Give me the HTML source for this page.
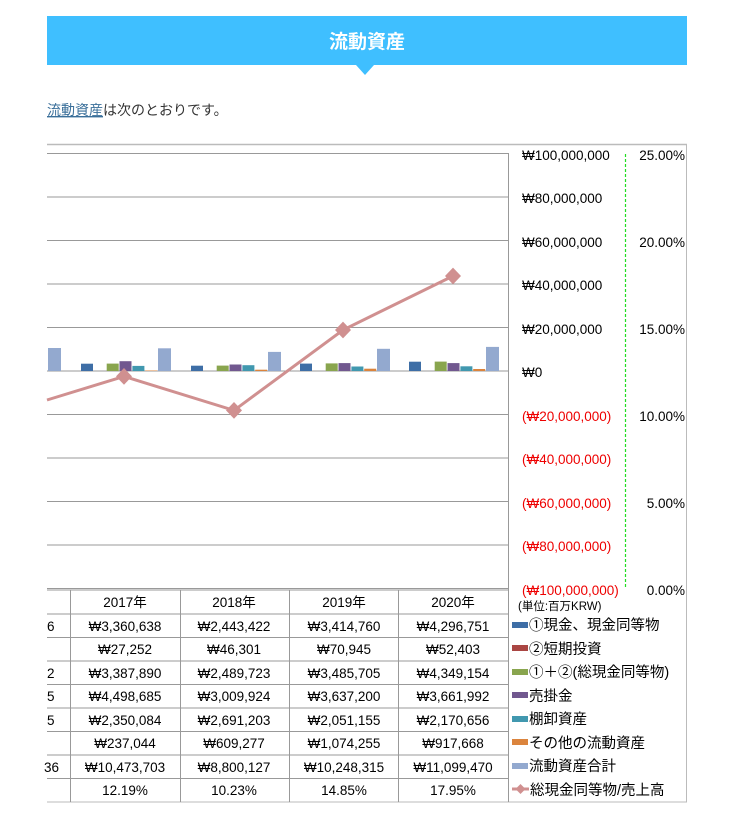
<!DOCTYPE html>
<html><head><meta charset="utf-8"><style>
body{margin:0;background:#fff;width:741px;height:815px;overflow:hidden;font-family:"Liberation Sans","Noto Sans CJK JP",sans-serif;}
</style></head><body>
<svg width="741" height="815" xmlns="http://www.w3.org/2000/svg" style="position:absolute;left:0;top:0;font-family:'Liberation Sans','Noto Sans CJK JP',sans-serif">
<rect x="47" y="16" width="640" height="49" fill="#3fbfff"/>
<polygon points="356,65 374,65 365,75" fill="#3fbfff"/>
<text x="367" y="48" font-size="19" font-weight="bold" fill="#fff" text-anchor="middle">流動資産</text>
<text x="47" y="115" font-size="14" fill="#333"><tspan fill="#3a6f9a" text-decoration="underline">流動資産</tspan>は次のとおりです。</text>
<line x1="47" y1="144.5" x2="687" y2="144.5" stroke="#bbb" stroke-width="1.5"/>
<line x1="686.5" y1="144" x2="686.5" y2="802" stroke="#bbb"/>
<line x1="47" y1="802" x2="687" y2="802" stroke="#bbb"/>
<g stroke="#999" stroke-width="1">
<line x1="47" y1="153.5" x2="508" y2="153.5"/><line x1="47" y1="197" x2="508" y2="197"/><line x1="47" y1="240.5" x2="508" y2="240.5"/><line x1="47" y1="284" x2="508" y2="284"/><line x1="47" y1="327.5" x2="508" y2="327.5"/><line x1="47" y1="371" x2="508" y2="371"/><line x1="47" y1="414.5" x2="508" y2="414.5"/><line x1="47" y1="458" x2="508" y2="458"/><line x1="47" y1="501.5" x2="508" y2="501.5"/><line x1="47" y1="545" x2="508" y2="545"/><line x1="47" y1="588.5" x2="508" y2="588.5"/>
<line x1="508.5" y1="153" x2="508.5" y2="802"/>
</g>
<line x1="625.5" y1="154" x2="625.5" y2="588" stroke="#22dd22" stroke-width="1.2" stroke-dasharray="3,2"/>
<g font-size="13.5" fill="#000">
<text x="522" y="160">₩100,000,000</text><text x="522" y="203">₩80,000,000</text><text x="522" y="247">₩60,000,000</text><text x="522" y="290">₩40,000,000</text><text x="522" y="334">₩20,000,000</text><text x="522" y="377">₩0</text>
<g fill="#e00"><text x="522" y="421">(₩20,000,000)</text><text x="522" y="464">(₩40,000,000)</text><text x="522" y="508">(₩60,000,000)</text><text x="522" y="551">(₩80,000,000)</text><text x="522" y="595">(₩100,000,000)</text></g>
<g text-anchor="end"><text x="685" y="160">25.00%</text><text x="685" y="247">20.00%</text><text x="685" y="334">15.00%</text><text x="685" y="421">10.00%</text><text x="685" y="508">5.00%</text><text x="685" y="595">0.00%</text></g>
</g>
<g>
<rect x="48" y="348" width="13" height="23" fill="#93a9cf"/>
<rect x="81" y="363.7" width="12" height="7.3" fill="#3e6ea6"/>
<rect x="106.7" y="363.6" width="12" height="7.4" fill="#89a54e"/>
<rect x="119.5" y="361.2" width="12" height="9.8" fill="#71588f"/>
<rect x="132.4" y="365.9" width="12" height="5.1" fill="#4198af"/>
<rect x="145.2" y="370.5" width="12" height="0.5" fill="#db843d"/>
<rect x="158" y="348.3" width="13" height="22.7" fill="#93a9cf"/>
<rect x="191" y="365.7" width="12" height="5.3" fill="#3e6ea6"/>
<rect x="216.7" y="365.6" width="12" height="5.4" fill="#89a54e"/>
<rect x="229.5" y="364.5" width="12" height="6.5" fill="#71588f"/>
<rect x="242.4" y="365.2" width="12" height="5.8" fill="#4198af"/>
<rect x="255.2" y="369.7" width="12" height="1.3" fill="#db843d"/>
<rect x="268" y="351.9" width="13" height="19.1" fill="#93a9cf"/>
<rect x="300" y="363.6" width="12" height="7.4" fill="#3e6ea6"/>
<rect x="325.7" y="363.4" width="12" height="7.6" fill="#89a54e"/>
<rect x="338.5" y="363.1" width="12" height="7.9" fill="#71588f"/>
<rect x="351.4" y="366.5" width="12" height="4.5" fill="#4198af"/>
<rect x="364.2" y="368.7" width="12" height="2.3" fill="#db843d"/>
<rect x="377" y="348.8" width="13" height="22.2" fill="#93a9cf"/>
<rect x="409" y="361.7" width="12" height="9.3" fill="#3e6ea6"/>
<rect x="434.7" y="361.6" width="12" height="9.4" fill="#89a54e"/>
<rect x="447.5" y="363.1" width="12" height="7.9" fill="#71588f"/>
<rect x="460.4" y="366.3" width="12" height="4.7" fill="#4198af"/>
<rect x="473.2" y="369" width="12" height="2" fill="#db843d"/>
<rect x="486" y="346.9" width="13" height="24.1" fill="#93a9cf"/>
</g>
<polyline points="47,400 124,376.4 234,410.4 343,330 453,276" fill="none" stroke="#d09090" stroke-width="3"/>
<g fill="#d09090">
<polygon points="124,368 132,376.4 124,384.8 116,376.4"/>
<polygon points="234,402 242,410.4 234,418.8 226,410.4"/>
<polygon points="343,321.6 351,330 343,338.4 335,330"/>
<polygon points="453,267.6 461,276 453,284.4 445,276"/>
</g>
<g stroke="#999" stroke-width="1">
<line x1="47" y1="590" x2="508" y2="590"/>
<line x1="47" y1="614" x2="508" y2="614"/><line x1="47" y1="637.5" x2="508" y2="637.5"/><line x1="47" y1="661" x2="508" y2="661"/><line x1="47" y1="684.5" x2="508" y2="684.5"/><line x1="47" y1="708" x2="508" y2="708"/><line x1="47" y1="731.5" x2="508" y2="731.5"/><line x1="47" y1="755" x2="508" y2="755"/><line x1="47" y1="778.5" x2="508" y2="778.5"/>
<line x1="70.5" y1="590" x2="70.5" y2="802"/><line x1="180.5" y1="590" x2="180.5" y2="802"/><line x1="289.5" y1="590" x2="289.5" y2="802"/><line x1="398.5" y1="590" x2="398.5" y2="802"/>
</g>
<g font-size="13.5" fill="#000" text-anchor="middle">
<text x="125" y="607">2017年</text><text x="234" y="607">2018年</text><text x="344" y="607">2019年</text><text x="453" y="607">2020年</text>
<text x="125" y="631">₩3,360,638</text><text x="234" y="631">₩2,443,422</text><text x="344" y="631">₩3,414,760</text><text x="453" y="631">₩4,296,751</text>
<text x="125" y="654">₩27,252</text><text x="234" y="654">₩46,301</text><text x="344" y="654">₩70,945</text><text x="453" y="654">₩52,403</text>
<text x="125" y="678">₩3,387,890</text><text x="234" y="678">₩2,489,723</text><text x="344" y="678">₩3,485,705</text><text x="453" y="678">₩4,349,154</text>
<text x="125" y="701">₩4,498,685</text><text x="234" y="701">₩3,009,924</text><text x="344" y="701">₩3,637,200</text><text x="453" y="701">₩3,661,992</text>
<text x="125" y="725">₩2,350,084</text><text x="234" y="725">₩2,691,203</text><text x="344" y="725">₩2,051,155</text><text x="453" y="725">₩2,170,656</text>
<text x="125" y="748">₩237,044</text><text x="234" y="748">₩609,277</text><text x="344" y="748">₩1,074,255</text><text x="453" y="748">₩917,668</text>
<text x="125" y="772">₩10,473,703</text><text x="234" y="772">₩8,800,127</text><text x="344" y="772">₩10,248,315</text><text x="453" y="772">₩11,099,470</text>
<text x="125" y="795">12.19%</text><text x="234" y="795">10.23%</text><text x="344" y="795">14.85%</text><text x="453" y="795">17.95%</text>
</g>
<g font-size="13.5" fill="#000">
<text x="47" y="631">6</text><text x="47" y="678">2</text><text x="47" y="701">5</text><text x="47" y="725">5</text><text x="44" y="772">36</text>
</g>
<text x="518" y="610" font-size="11.5">(単位:百万KRW)</text>
<g font-size="14.5" fill="#000">
<rect x="512" y="622" width="16" height="6" fill="#3e6ea6"/><text x="529" y="630">①現金、現金同等物</text>
<rect x="512" y="645" width="16" height="6" fill="#aa4643"/><text x="529" y="654">②短期投資</text>
<rect x="512" y="669" width="16" height="6" fill="#89a54e"/><text x="529" y="677">①＋②(総現金同等物)</text>
<rect x="512" y="692" width="16" height="6" fill="#71588f"/><text x="529" y="701">売掛金</text>
<rect x="512" y="716" width="16" height="6" fill="#4198af"/><text x="529" y="724">棚卸資産</text>
<rect x="512" y="739" width="16" height="6" fill="#db843d"/><text x="529" y="748">その他の流動資産</text>
<rect x="512" y="763" width="16" height="6" fill="#93a9cf"/><text x="529" y="771">流動資産合計</text>
<line x1="512" y1="789" x2="529" y2="789" stroke="#d09090" stroke-width="3"/>
<polygon points="520.5,784 525.5,789 520.5,794 515.5,789" fill="#d09090"/><text x="530" y="795">総現金同等物/売上高</text>
</g>
</svg>
</body></html>
